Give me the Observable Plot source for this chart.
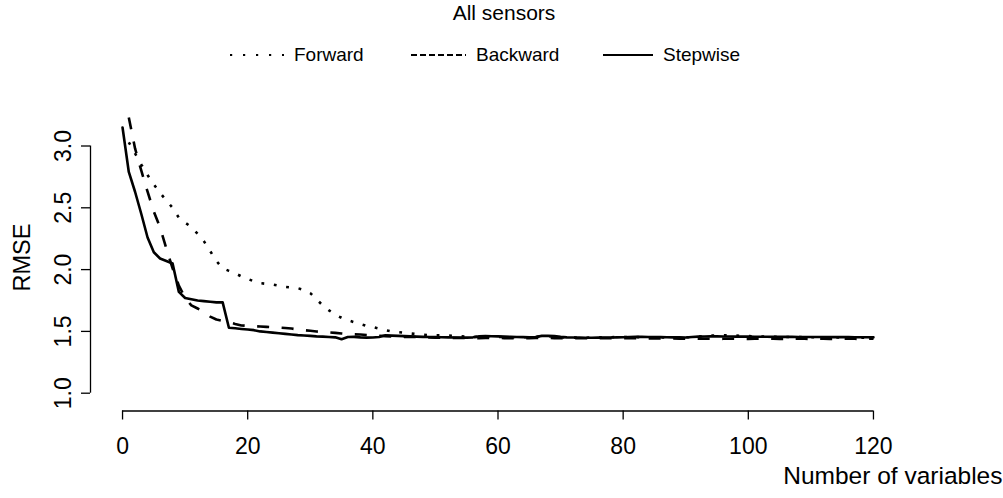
<!DOCTYPE html>
<html><head><meta charset="utf-8">
<script src="https://cdn.jsdelivr.net/npm/d3@7"></script>
<script src="https://cdn.jsdelivr.net/npm/@observablehq/plot@0.6"></script>
<style>
body{margin:0;background:#fff;font-family:"Liberation Sans",Arial,sans-serif;color:#000;}
#header{position:relative;width:1003px;height:80px;}
#title{position:absolute;left:504px;top:2px;transform:translateX(-50%);font-size:21px;line-height:22px;white-space:nowrap;}
.item{position:absolute;top:44px;height:22px;display:flex;align-items:center;font-size:19px;white-space:nowrap;}
.item svg{margin-right:10px;}
</style></head><body>
<div id="header">
  <div id="title">All sensors</div>
  <div id="legend"></div>
</div>
<div id="chart"></div>
<script>
const methods = ["Forward", "Backward", "Stepwise"];
const xTicks = [0, 20, 40, 60, 80, 100, 120];
const yTicks = [1.0, 1.5, 2.0, 2.5, 3.0];

// Stepwise: n = 0..120
const stepwise = [3.15,2.79,2.63,2.45,2.26,2.14,2.09,2.07,2.05,1.82,
1.77,1.76,1.75,1.745,1.74,1.735,1.735,1.53,1.525,1.52,
1.515,1.51,1.50,1.495,1.49,1.485,1.48,1.475,1.47,1.467,
1.464,1.46,1.458,1.455,1.452,1.437,1.455,1.456,1.452,1.45,
1.451,1.455,1.468,1.466,1.464,1.462,1.46,1.458,1.456,1.455,
1.454,1.453,1.452,1.451,1.45,1.45,1.452,1.46,1.462,1.461,
1.46,1.458,1.456,1.455,1.454,1.453,1.455,1.464,1.465,1.463,
1.456,1.452,1.451,1.45,1.449,1.449,1.45,1.45,1.451,1.452,
1.453,1.455,1.456,1.456,1.455,1.454,1.454,1.453,1.452,1.452,
1.451,1.455,1.458,1.459,1.46,1.46,1.459,1.459,1.458,1.458,
1.458,1.457,1.457,1.457,1.456,1.456,1.456,1.456,1.455,1.455,
1.455,1.455,1.455,1.454,1.454,1.454,1.454,1.453,1.453,1.453,
1.452];

// Backward: n = 1..120
const backward = [3.23,2.98,2.80,2.63,2.47,2.34,2.17,2.01,1.87,1.77,
1.71,1.685,1.66,1.62,1.596,1.586,1.574,1.56,1.548,1.545,
1.542,1.54,1.537,1.534,1.531,1.527,1.523,1.516,1.51,1.505,
1.499,1.495,1.492,1.488,1.483,1.479,1.476,1.475,1.471,1.468,
1.465,1.462,1.46,1.458,1.456,1.455,1.454,1.452,1.451,1.45,
1.449,1.448,1.448,1.447,1.447,1.446,1.446,1.447,1.448,1.447,
1.446,1.446,1.445,1.445,1.446,1.447,1.448,1.447,1.446,1.445,
1.445,1.444,1.444,1.444,1.445,1.445,1.446,1.446,1.445,1.445,
1.444,1.444,1.443,1.443,1.443,1.442,1.442,1.442,1.441,1.441,
1.441,1.44,1.441,1.44,1.439,1.44,1.441,1.44,1.439,1.439,
1.44,1.44,1.441,1.44,1.439,1.44,1.44,1.441,1.44,1.439,
1.44,1.44,1.439,1.44,1.441,1.44,1.44,1.439,1.44,1.44];

// Forward: n = 1..120
const forward = [3.03,2.94,2.85,2.765,2.69,2.62,2.56,2.50,2.42,2.38,
2.345,2.29,2.23,2.15,2.07,2.01,1.99,1.97,1.945,1.925,
1.905,1.89,1.885,1.88,1.87,1.86,1.855,1.85,1.835,1.81,
1.76,1.71,1.67,1.635,1.61,1.59,1.575,1.56,1.545,1.535,
1.522,1.51,1.50,1.494,1.489,1.483,1.478,1.473,1.47,1.469,
1.469,1.467,1.464,1.46,1.457,1.455,1.456,1.458,1.457,1.455,
1.454,1.453,1.452,1.452,1.453,1.455,1.46,1.462,1.458,1.453,
1.451,1.45,1.449,1.449,1.45,1.451,1.452,1.453,1.454,1.455,
1.455,1.454,1.453,1.452,1.451,1.451,1.45,1.45,1.451,1.452,
1.454,1.458,1.462,1.466,1.468,1.468,1.467,1.466,1.464,1.462,
1.46,1.458,1.457,1.456,1.455,1.455,1.454,1.454,1.453,1.453,
1.452,1.452,1.452,1.451,1.451,1.451,1.45,1.45,1.45,1.45];

const series = {Forward: {values: forward, start: 1}, Backward: {values: backward, start: 1}, Stepwise: {values: stepwise, start: 0}};
const styles = {
  Forward: {dash: "2.8,9.7", cap: "butt", legendDash: "2.2,10.8"},
  Backward: {dash: "12,12.5", cap: "butt", legendDash: "6,3"},
  Stepwise: {dash: null, cap: "round", legendDash: null}
};
const rows = [];
for (const m of methods) {
  const s = series[m];
  s.values.forEach((v, i) => rows.push({method: m, n: i + s.start, rmse: v}));
}

// legend (HTML above the SVG)
const legendPos = {Forward: 230, Backward: 411, Stepwise: 603};
const legendW = {Forward: 54, Backward: 55, Stepwise: 50};
const legend = document.getElementById("legend");
for (const m of methods) {
  const div = document.createElement("div");
  div.className = "item";
  div.style.left = legendPos[m] + "px";
  const w = legendW[m];
  const dash = styles[m].legendDash ? ` stroke-dasharray="${styles[m].legendDash}"` : "";
  div.innerHTML = `<svg width="${w}" height="10"><line x1="0" x2="${w}" y1="5" y2="5" stroke="#000" stroke-width="2"${dash}/></svg><span>${m}</span>`;
  legend.appendChild(div);
}

const xDomain = [-5.12, 124.8];
const yDomain = [0.856, 3.29];

const lineMarks = methods.map(m => Plot.line(rows, {
  filter: d => d.method === m, x: "n", y: "rmse",
  stroke: "#000", strokeWidth: 2.6,
  strokeDasharray: styles[m].dash, strokeLinecap: styles[m].cap, strokeLinejoin: "round"
}));

const chart = Plot.plot({
  width: 1003, height: 418,
  marginLeft: 90, marginRight: 100, marginTop: 29.66, marginBottom: 87.5,
  x: {domain: xDomain, axis: null},
  y: {domain: yDomain, axis: null},
  style: {fontFamily: "'Liberation Sans', Arial, sans-serif", background: "#fff", color: "#000", overflow: "visible"},
  marks: [
    // x axis line and ticks
    Plot.ruleY([yDomain[0]], {x1: xTicks[0], x2: xTicks[xTicks.length - 1], stroke: "#000", strokeWidth: 1.3}),
    Plot.ruleX(xTicks, {x: d => d, y1: yDomain[0], y2: yDomain[0], insetBottom: -9, stroke: "#000", strokeWidth: 1.3}),
    Plot.text(xTicks, {x: d => d, text: d => String(d), frameAnchor: "bottom", dy: 36, fontSize: 23, lineAnchor: "middle", fill: "#000"}),
    // y axis line and ticks
    Plot.ruleX([xDomain[0]], {y1: yTicks[0], y2: yTicks[yTicks.length - 1], stroke: "#000", strokeWidth: 1.3}),
    Plot.ruleY(yTicks, {y: d => d, x1: xDomain[0], x2: xDomain[0], insetLeft: -9, stroke: "#000", strokeWidth: 1.3}),
    Plot.text(yTicks, {y: d => d, text: d => d.toFixed(1), frameAnchor: "left", dx: -27, rotate: -90, fontSize: 23, textAnchor: "middle", fill: "#000"}),
    // axis titles
    Plot.text(["RMSE"], {text: d => d, frameAnchor: "left", dx: -68, dy: -3, rotate: -90, fontSize: 23.5, textAnchor: "middle", fill: "#000"}),
    Plot.text(["Number of variables"], {text: d => d, frameAnchor: "bottom-right", textAnchor: "end", dx: 99, dy: 73, fontSize: 24.5, fill: "#000"}),
    ...lineMarks
  ]
});
document.getElementById("chart").appendChild(chart);
</script>
</body></html>
